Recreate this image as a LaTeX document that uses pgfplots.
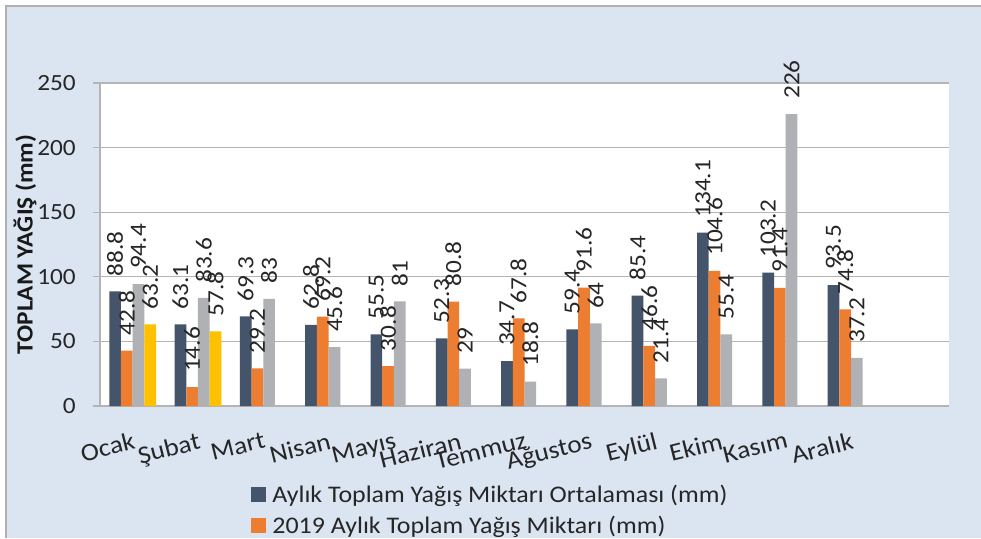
\documentclass[border=0pt]{standalone}
\usepackage{fontspec}
\setmainfont{Carlito}[FakeStretch=1.09]
\usepackage{pgfplots}
\pgfplotsset{compat=1.18}

\definecolor{bgblue}{HTML}{DBE5F1}
\definecolor{frame}{HTML}{B0B0B0}
\definecolor{gridc}{HTML}{B4B4B4}
\definecolor{sA}{HTML}{44546A}
\definecolor{sB}{HTML}{ED7D31}
\definecolor{sC}{HTML}{AFB1B4}
\definecolor{sD}{HTML}{FFC000}

\newcommand{\lblfont}{\fontsize{23.2}{28}\selectfont}

\begin{document}
\begin{tikzpicture}[x=1pt,y=1pt]
% page and chart background
\path[use as bounding box] (0,0) rectangle (981,538);
\fill[white] (0,0) rectangle (981,538);
\fill[bgblue] (6,0) rectangle (981,532);
\draw[frame, line width=1.2pt] (6,0) -- (6,532) -- (981,532);

\begin{axis}[
    at={(100pt,132pt)}, anchor=south west,
    width=849pt, height=323pt, scale only axis,
    axis background/.style={fill=white},
    xmin=-0.5, xmax=12.5,
    ymin=0, ymax=250,
    ybar=0pt, bar width=0.179,
    clip=false,
    axis x line*=bottom, axis y line*=left,
    axis line style={gridc, line width=1.6pt},
    ytick={0,50,...,250},
    ymajorgrids,
    grid style={gridc, line width=1.3pt},
    tick align=outside,
    major tick length=7pt,
    y tick style={gridc, line width=1.3pt},
    x tick style={draw=none},
    xtick={0,...,11},
    xticklabels={Ocak,Şubat,Mart,Nisan,Mayıs,Haziran,Temmuz,Ağustos,Eylül,Ekim,Kasım,Aralık},
    /pgf/number format/assume math mode=true,
    tick label style={font=\lblfont, text=black!85},
    xticklabel style={font=\fontsize{25}{29}\selectfont, rotate=14, anchor=north east,
        inner sep=0pt, yshift=-18pt, xshift=-5pt},
    yticklabel style={anchor=east, inner sep=0pt, xshift=-17pt},
    ylabel={TOPLAM YAĞIŞ (mm)},
    ylabel style={at={(axis description cs:-0.0883,0.5)}, anchor=center,
        font=\fontsize{23.2}{27}\selectfont\bfseries, text=black!90},
    nodes near coords,
    every node near coord/.append style={rotate=90, anchor=west, font=\lblfont,
        text=black!85, inner xsep=15pt, inner ysep=0pt},
    legend style={at={(axis description cs:0.1745,-0.236)}, anchor=north west,
        draw=none, fill=none, font=\fontsize{23.8}{28}\selectfont, text=black!85,
        row sep=9.5pt, nodes={inner xsep=6pt, inner ysep=1pt}},
    legend cell align=left,
    legend image code/.code={\fill[#1] (0pt,-7.5pt) rectangle (15pt,7.5pt);},
]
\addplot[fill=sA, draw=none] coordinates {
    (0,88.8) (1,63.1) (2,69.3) (3,62.8) (4,55.5) (5,52.3)
    (6,34.7) (7,59.4) (8,85.4) (9,134.1) (10,103.2) (11,93.5)
};
\addplot[fill=sB, draw=none] coordinates {
    (0,42.8) (1,14.6) (2,29.2) (3,69.2) (4,30.8) (5,80.8)
    (6,67.8) (7,91.6) (8,46.6) (9,104.6) (10,91.4) (11,74.8)
};
\addplot[fill=sC, draw=none] coordinates {
    (0,94.4) (1,83.6) (2,83) (3,45.6) (4,81) (5,29)
    (6,18.8) (7,64) (8,21.4) (9,55.4) (10,226) (11,37.2)
};
\addplot[fill=sD, draw=none] coordinates {
    (0,63.2) (1,57.8)
};
\legend{Aylık Toplam Yağış Miktarı Ortalaması (mm),2019 Aylık Toplam Yağış Miktarı (mm)}
\end{axis}
\end{tikzpicture}
\end{document}
